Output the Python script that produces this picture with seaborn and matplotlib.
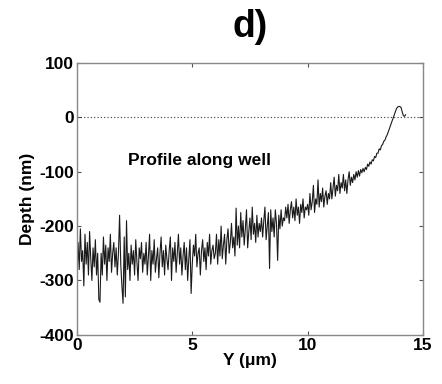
import numpy as np
import pandas as pd
import matplotlib
matplotlib.use("Agg")
import matplotlib.pyplot as plt
import seaborn as sns

step_um = 0.05
depth_nm = [
    # 0-1 um
    -300,-230,-280,-205,-265,-245,-310,-215,-270,-230,-290,-210,-260,-300,-240,-275,-225,-290,-250,-335,
    # 1-2
    -340,-250,-290,-220,-270,-235,-300,-240,-265,-215,-285,-250,-230,-275,-240,-290,-250,-180,-270,-310,
    # 2-3
    -342,-220,-330,-190,-280,-250,-300,-235,-270,-245,-290,-225,-265,-300,-240,-260,-230,-285,-250,-270,
    # 3-4
    -230,-290,-255,-215,-300,-245,-270,-225,-285,-260,-240,-295,-250,-220,-275,-245,-290,-235,-260,-280,
    # 4-5
    -245,-220,-300,-240,-265,-230,-285,-250,-215,-270,-240,-290,-255,-230,-280,-240,-300,-260,-225,-324,
    # 5-6
    -270,-235,-255,-215,-275,-250,-240,-290,-245,-225,-265,-240,-280,-230,-255,-215,-270,-245,-235,-260,
    # 6-7
    -250,-215,-270,-225,-255,-200,-260,-235,-215,-270,-225,-205,-250,-230,-195,-240,-220,-255,-167,-235,
    # 7-8
    -200,-240,-175,-220,-190,-235,-205,-170,-240,-210,-185,-225,-165,-215,-195,-230,-180,-220,-195,-210,
    # 8-9
    -185,-220,-190,-165,-225,-200,-175,-278,-170,-210,-185,-220,-170,-195,-263,-180,-205,-170,-200,-185,
    # 9-10
    -190,-165,-185,-160,-195,-170,-155,-185,-165,-190,-150,-180,-165,-195,-160,-175,-150,-185,-165,-170,
    # 10-11
    -160,-180,-140,-170,-155,-125,-175,-150,-160,-115,-165,-140,-155,-130,-165,-145,-135,-160,-140,-150,
    # 11-12
    -120,-150,-130,-110,-145,-125,-135,-105,-140,-120,-130,-105,-135,-115,-140,-115,-100,-125,-110,-120,
    # 12-12.5
    -105,-115,-100,-110,-98,-108,-96,-102,-94,-100,
    # 12.5-13
    -92,-96,-86,-90,-82,-86,-78,-80,-72,-74,
    # 13-14
    -66,-66,-58,-60,-52,-50,-44,-42,-36,-32,-26,-20,-14,-8,-2,4,10,16,19,20,
    # 14-14.25
    20,18,10,3,2,5,
]
y_um = np.arange(len(depth_nm)) * step_um

x_ticks = [0, 5, 10, 15]
y_ticks = [-400, -300, -200, -100, 0, 100]
title = "d)"
xlabel = "Y (\u03bcm)"
ylabel = "Depth (nm)"
annotation = "Profile along well"

df = pd.DataFrame({"Y": y_um, "Depth": depth_nm})

sns.set_style("ticks")
plt.rcParams["font.family"] = ["Liberation Sans", "DejaVu Sans"]
plt.rcParams["font.weight"] = "bold"
plt.rcParams["axes.unicode_minus"] = False
plt.rcParams["text.color"] = "black"
plt.rcParams["axes.labelcolor"] = "black"
plt.rcParams["xtick.labelcolor"] = "black"
plt.rcParams["ytick.labelcolor"] = "black"

fig = plt.figure(figsize=(4.42, 3.84), dpi=100)
ax = fig.add_axes([0.174, 0.128, 0.783, 0.708])

sns.lineplot(data=df, x="Y", y="Depth", ax=ax, color="#1a1a1a", linewidth=0.8, estimator=None, sort=False)
ax.axhline(0, color="#333333", linestyle=(0, (1, 2)), linewidth=0.8)

ax.set_xlim(0, 15)
ax.set_ylim(-400, 100)
ax.set_xticks(x_ticks)
ax.set_yticks(y_ticks)
ax.tick_params(direction="in", length=3, top=True, right=True, labelsize=12.5, width=0.8,
               color="#555555", labelcolor="black", pad=2)
for lab in ax.get_xticklabels() + ax.get_yticklabels():
    lab.set_fontweight("bold")
for s in ax.spines.values():
    s.set_color("#888888")
    s.set_linewidth(1.0)

ax.set_xlabel(xlabel, fontsize=12.5, fontweight="bold", labelpad=0, color="black")
ax.set_ylabel(ylabel, fontsize=12.5, fontweight="bold", labelpad=3, color="black")
ax.text(2.2, -80, annotation, fontsize=12.5, fontweight="bold", va="center", ha="left", color="black")
fig.text(0.566, 0.93, title, fontsize=27, fontweight="bold", ha="center", va="center", color="black")

fig.savefig("out.png", dpi=100)
